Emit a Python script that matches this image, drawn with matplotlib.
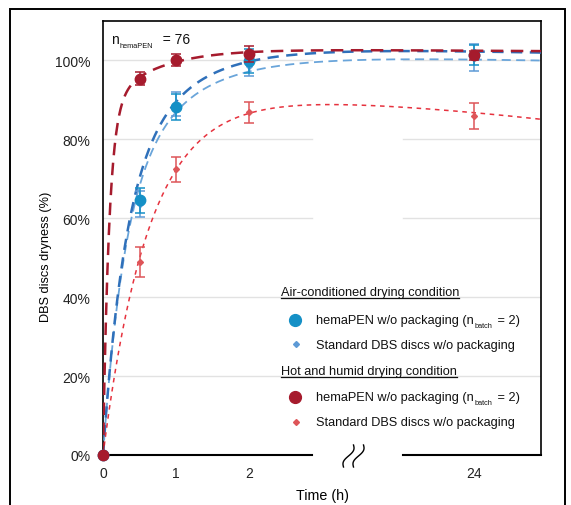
import numpy as np
import matplotlib
matplotlib.use("Agg")
import matplotlib.pyplot as plt
from matplotlib.lines import Line2D
from matplotlib.patches import Rectangle

plt.rcParams['font.family'] = ['Liberation Sans', 'DejaVu Sans']

# ---------------- data ----------------
time_h = [0, 0.5, 1, 2, 24]
time_ticks = [0, 1, 2, 24]
tick_labels = ["0", "1", "2", "24"]

air_pen = [0, 64.5, 88.1, 99.7, 101.3]
air_pen_err = [0, 3.2, 3.2, 3.0, 2.5]
air_std = [0, 63.5, 88.8, 98.6, 100.7]
air_std_err = [0, 3.3, 3.0, 2.6, 3.5]
hot_pen = [0, 95.3, 100.0, 101.6, 101.2]
hot_pen_err = [0, 1.6, 1.5, 2.0, 1.2]
hot_std = [0, 48.8, 72.3, 86.8, 85.8]
hot_std_err = [0, 3.8, 3.2, 2.7, 3.3]

# fitted curve parameters (A1, a1, A2, a2, c1, c2) in broken-axis units
fit_hot_pen = (88, 12, 15, 1.5, 0.12, 0)
fit_hot_std = (91, 1.585, 0, 0, 0, 0.166)
fit_air_pen = (60, 3.5, 43, 1.3, 0, 0.03)
fit_air_std = (60, 3.5, 41, 1.2, 0, 0.03)

n_total = 76

# ---------------- layout helpers ----------------
W, H = 571, 506
POS_24 = 5.08       # axis position of the 24 h point (broken axis)
XMAX = 6.0
GAP_L, GAP_R = 2.863, 4.11


def pos(t):
    return t if t <= 2 else POS_24


def model(u, A1, a1, A2, a2, c1, c2):
    return A1 * (1 - np.exp(-a1 * u)) + A2 * (1 - np.exp(-a2 * u)) - c1 * u - c2 * u ** 2


def fx(x):
    return x / W


def fy(y):
    return 1 - y / H


C_AIR_PEN = '#1590c6'
C_AIR_STD = '#5d9ad6'
C_AIR_PEN_LINE = '#2f70ba'
C_AIR_STD_LINE = '#6aa5da'
C_HOT_PEN = '#a61b2d'
C_HOT_STD = '#de5558'
C_HOT_STD_LINE = '#e6323e'
TXT = '#111111'

fig = plt.figure(figsize=(W / 100, H / 100), dpi=100)
renderer = fig.canvas.get_renderer()
ax = fig.add_axes([fx(103), fy(456), fx(541) - fx(103), fy(22) - fy(456)])
ax.set_xlim(0, XMAX)
ax.set_ylim(0, 109.9)


def rich_text(x, y_base, parts, fs, sub_fs, sub_drop=3.5, gap=1.2):
    """place text pieces sequentially (pixel coords, baseline y)."""
    cx = x
    for txt, is_sub in parts:
        if is_sub:
            t = fig.text(fx(cx + gap), fy(y_base + sub_drop), txt, fontsize=sub_fs,
                         va='baseline', ha='left', color=TXT)
        else:
            t = fig.text(fx(cx), fy(y_base), txt, fontsize=fs,
                         va='baseline', ha='left', color=TXT)
        bb = t.get_window_extent(renderer=renderer)
        cx = bb.x1 + (gap if is_sub else 0)
    return cx


# outer frame
fig.patches.append(Rectangle((fx(10), fy(530)), fx(565) - fx(10), fy(10) - fy(530),
                             transform=fig.transFigure, fill=False, lw=1.4,
                             edgecolor='black', zorder=0))

# gridlines with gap
for g in [20, 40, 60, 80, 100]:
    ax.plot([0, GAP_L], [g, g], color='#e2e2e2', lw=1.0, zorder=0)
    ax.plot([GAP_R, XMAX], [g, g], color='#e2e2e2', lw=1.0, zorder=0)

# spines
for s in ['left', 'right', 'top']:
    ax.spines[s].set_linewidth(1.2)
    ax.spines[s].set_color('black')
ax.spines['bottom'].set_visible(False)
ax.plot([0, GAP_L], [0, 0], color='black', lw=1.5, clip_on=False, zorder=2)
ax.plot([GAP_R, XMAX], [0, 0], color='black', lw=1.5, clip_on=False, zorder=2)

# break marks (pixel coords)
tt = np.linspace(0, 1, 50)
for xc in [348.5, 358.5]:
    xs = xc - 5 + 10 * tt - 2.5 * np.sin(2 * np.pi * tt)
    ys = 468 - 22 * tt
    fig.add_artist(Line2D(fx(xs), fy(ys), color='black', lw=1.0, transform=fig.transFigure))

# fitted curves
u = np.linspace(0, XMAX, 600)
ax.plot(u, model(u, *fit_air_std), color=C_AIR_STD_LINE, lw=1.3, dashes=(5, 3), zorder=3)
ax.plot(u, model(u, *fit_air_pen), color=C_AIR_PEN_LINE, lw=1.8, dashes=(4.5, 3), zorder=3)
ax.plot(u, model(u, *fit_hot_std), color=C_HOT_STD_LINE, lw=1.1, dashes=(3, 3), zorder=3)
ax.plot(u, model(u, *fit_hot_pen), color=C_HOT_PEN, lw=1.8, dashes=(5, 3), zorder=3)

xp = [pos(t) for t in time_h]
ax.errorbar(xp, hot_std, yerr=hot_std_err, fmt='D', ms=3, color=C_HOT_STD, ecolor=C_HOT_STD,
            elinewidth=1.1, capsize=3.5, capthick=1.1, zorder=4, clip_on=False)
ax.errorbar(xp, air_std, yerr=air_std_err, fmt='D', ms=3, color=C_AIR_STD, ecolor=C_AIR_STD,
            elinewidth=1.1, capsize=3.5, capthick=1.1, zorder=4, clip_on=False)
ax.errorbar(xp, air_pen, yerr=air_pen_err, fmt='o', ms=7.5, color=C_AIR_PEN, ecolor=C_AIR_PEN,
            elinewidth=1.1, capsize=3.5, capthick=1.1, zorder=5, clip_on=False)
ax.errorbar(xp, hot_pen, yerr=hot_pen_err, fmt='o', ms=7.5, color=C_HOT_PEN, ecolor=C_HOT_PEN,
            elinewidth=1.1, capsize=3.5, capthick=1.1, zorder=6, clip_on=False)

# ticks
ax.set_xticks([pos(t) for t in time_ticks])
ax.set_xticklabels(tick_labels)
ax.set_yticks([0, 20, 40, 60, 80, 100])
ax.set_yticklabels([f"{v}%" for v in [0, 20, 40, 60, 80, 100]])
ax.tick_params(axis='both', length=0, labelsize=10, colors='#222222')
ax.tick_params(axis='x', pad=8)
ax.tick_params(axis='y', pad=9)

ax.set_xlabel("Time (h)", fontsize=10.3, labelpad=6)
ax.set_ylabel("DBS discs dryness (%)", fontsize=9.2, labelpad=12)
ax.yaxis.set_label_coords(-0.116, 0.46)

# n annotation
rich_text(111, 44, [("n", False), ("hemaPEN", True), ("  = " + str(n_total), False)], 10, 5.3)

# custom legend
fs = 9.2
sub_fs = 5.3
legend_rows = [
    ('title', 293, None),
    ('o', 321, C_AIR_PEN),
    ('D', 345, C_AIR_STD),
    ('title', 372, None),
    ('o', 398, C_HOT_PEN),
    ('D', 423, C_HOT_STD),
]
title_labels = ["Air-conditioned drying condition", "Hot and humid drying condition"]
pen_label = ("hemaPEN w/o packaging (n", "batch", " = 2)")
std_label = "Standard DBS discs w/o packaging"

ti = 0
for kind, yy, col in legend_rows:
    base = yy + 3.5
    if kind == 'title':
        t = fig.text(fx(281), fy(base), title_labels[ti], fontsize=fs, va='baseline',
                     ha='left', color=TXT)
        bb = t.get_window_extent(renderer=renderer)
        fig.add_artist(Line2D([bb.x0 / W, bb.x1 / W], [fy(base + 2.5)] * 2, color=TXT,
                              lw=0.9, transform=fig.transFigure))
        ti += 1
    elif kind == 'o':
        fig.add_artist(Line2D([fx(295)], [fy(yy)], marker='o', ms=8.5, color=col,
                              transform=fig.transFigure, linestyle='none'))
        rich_text(316, base, [(pen_label[0], False), (pen_label[1], True), (pen_label[2], False)],
                  fs, sub_fs)
    else:
        fig.add_artist(Line2D([fx(296)], [fy(yy)], marker='D', ms=3, color=col,
                              transform=fig.transFigure, linestyle='none'))
        fig.text(fx(316), fy(base), std_label, fontsize=fs, va='baseline', ha='left', color=TXT)

fig.savefig("out.png", dpi=100)
